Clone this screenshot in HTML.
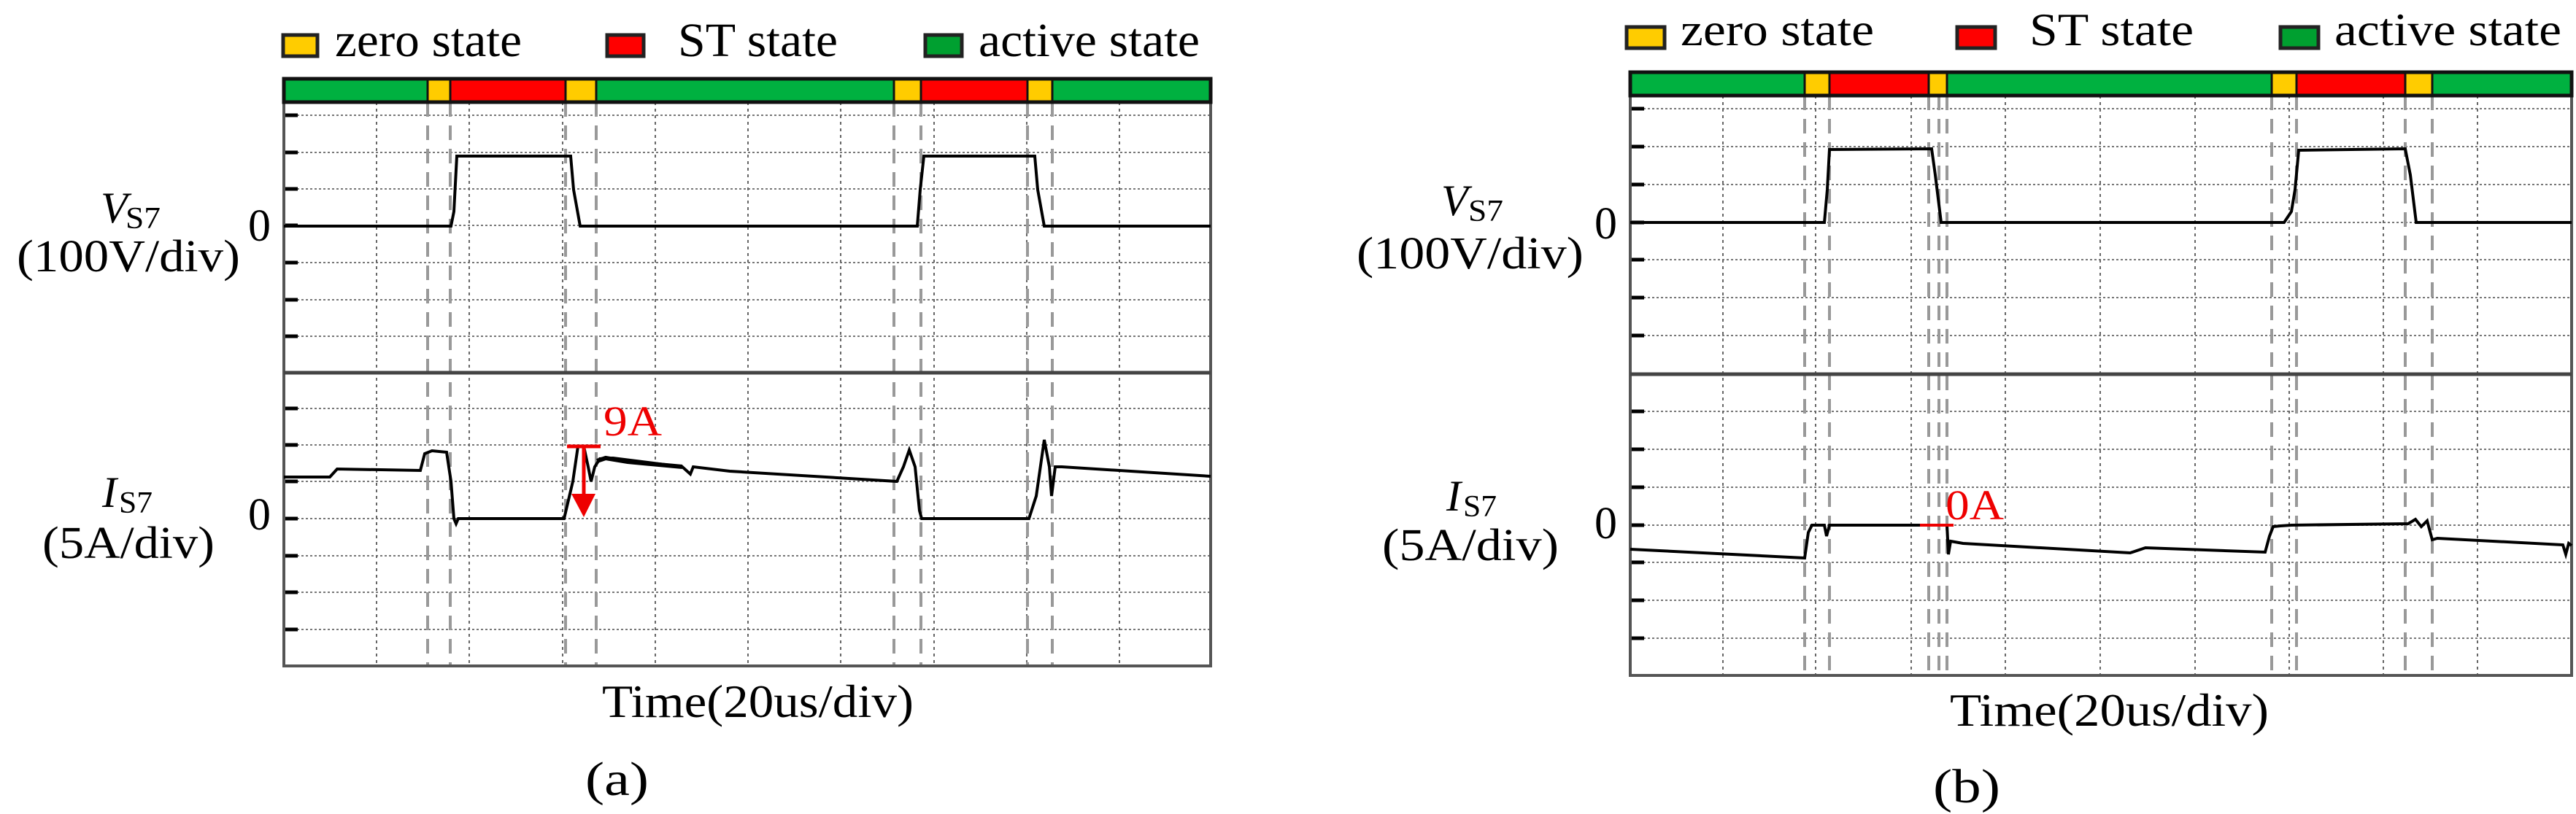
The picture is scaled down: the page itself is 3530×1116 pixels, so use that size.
<!DOCTYPE html>
<html><head><meta charset="utf-8"><style>
html,body{margin:0;padding:0;background:#fff;}
svg{display:block;}
text{font-family:"Liberation Serif",serif;fill:#000;}
</style></head><body>
<svg width="3530" height="1116" viewBox="0 0 3530 1116" xmlns="http://www.w3.org/2000/svg">
<rect width="3530" height="1116" fill="#fff"/>

<!-- ================= PANEL A ================= -->
<!-- legend -->
<rect x="388" y="48" width="47" height="29" fill="#ffcc00" stroke="#222" stroke-width="5"/>
<text x="459" y="77" font-size="66" textLength="256" lengthAdjust="spacingAndGlyphs">zero state</text>
<rect x="832" y="48" width="50" height="29" fill="#ff0000" stroke="#222" stroke-width="5"/>
<text x="929" y="77" font-size="66" textLength="219" lengthAdjust="spacingAndGlyphs">ST state</text>
<rect x="1268" y="48" width="50" height="29" fill="#00a030" stroke="#222" stroke-width="5"/>
<text x="1341" y="77" font-size="66" textLength="303" lengthAdjust="spacingAndGlyphs">active state</text>

<!-- grid -->
<g stroke="#777" stroke-width="2" stroke-dasharray="3,3">
<line x1="389" y1="158" x2="1659" y2="158"/><line x1="389" y1="209" x2="1659" y2="209"/>
<line x1="389" y1="259" x2="1659" y2="259"/><line x1="389" y1="309" x2="1659" y2="309"/>
<line x1="389" y1="360" x2="1659" y2="360"/><line x1="389" y1="411" x2="1659" y2="411"/>
<line x1="389" y1="461" x2="1659" y2="461"/>
<line x1="389" y1="560" x2="1659" y2="560"/><line x1="389" y1="610" x2="1659" y2="610"/>
<line x1="389" y1="660" x2="1659" y2="660"/><line x1="389" y1="711" x2="1659" y2="711"/>
<line x1="389" y1="762" x2="1659" y2="762"/><line x1="389" y1="812" x2="1659" y2="812"/>
<line x1="389" y1="863" x2="1659" y2="863"/>
</g>
<g stroke="#666" stroke-width="2" stroke-dasharray="4,5">
<line x1="516" y1="140" x2="516" y2="913"/><line x1="643" y1="140" x2="643" y2="913"/>
<line x1="771" y1="140" x2="771" y2="913"/><line x1="898" y1="140" x2="898" y2="913"/>
<line x1="1025" y1="140" x2="1025" y2="913"/><line x1="1152" y1="140" x2="1152" y2="913"/>
<line x1="1280" y1="140" x2="1280" y2="913"/><line x1="1407" y1="140" x2="1407" y2="913"/>
<line x1="1534" y1="140" x2="1534" y2="913"/>
</g>
<g stroke="#999" stroke-width="4" stroke-dasharray="20,12">
<line x1="586" y1="140" x2="586" y2="913"/><line x1="617" y1="140" x2="617" y2="913"/>
<line x1="775" y1="140" x2="775" y2="913"/><line x1="817" y1="140" x2="817" y2="913"/>
<line x1="1225" y1="140" x2="1225" y2="913"/><line x1="1262" y1="140" x2="1262" y2="913"/>
<line x1="1408" y1="140" x2="1408" y2="913"/><line x1="1442" y1="140" x2="1442" y2="913"/>
</g>
<!-- ticks -->
<g stroke="#000" stroke-width="5">
<line x1="389" y1="158" x2="408" y2="158"/><line x1="389" y1="209" x2="408" y2="209"/>
<line x1="389" y1="259" x2="408" y2="259"/><line x1="389" y1="309" x2="408" y2="309"/>
<line x1="389" y1="360" x2="408" y2="360"/><line x1="389" y1="411" x2="408" y2="411"/>
<line x1="389" y1="461" x2="408" y2="461"/>
<line x1="389" y1="560" x2="408" y2="560"/><line x1="389" y1="610" x2="408" y2="610"/>
<line x1="389" y1="660" x2="408" y2="660"/><line x1="389" y1="711" x2="408" y2="711"/>
<line x1="389" y1="762" x2="408" y2="762"/><line x1="389" y1="812" x2="408" y2="812"/>
<line x1="389" y1="863" x2="408" y2="863"/>
</g>
<!-- frame -->
<rect x="389" y="108" width="1270" height="805" fill="none" stroke="#555" stroke-width="4"/>
<line x1="389" y1="511" x2="1659" y2="511" stroke="#444" stroke-width="5"/>
<!-- state bar -->
<rect x="389" y="110" width="197" height="28" fill="#00b140"/>
<rect x="586" y="110" width="31" height="28" fill="#ffcc00"/>
<rect x="617" y="110" width="158" height="28" fill="#ff0000"/>
<rect x="775" y="110" width="42" height="28" fill="#ffcc00"/>
<rect x="817" y="110" width="408" height="28" fill="#00b140"/>
<rect x="1225" y="110" width="37" height="28" fill="#ffcc00"/>
<rect x="1262" y="110" width="146" height="28" fill="#ff0000"/>
<rect x="1408" y="110" width="34" height="28" fill="#ffcc00"/>
<rect x="1442" y="110" width="217" height="28" fill="#00b140"/>
<g stroke="#111" stroke-width="3">
<line x1="586" y1="110" x2="586" y2="138"/><line x1="617" y1="110" x2="617" y2="138"/>
<line x1="775" y1="110" x2="775" y2="138"/><line x1="817" y1="110" x2="817" y2="138"/>
<line x1="1225" y1="110" x2="1225" y2="138"/><line x1="1262" y1="110" x2="1262" y2="138"/>
<line x1="1408" y1="110" x2="1408" y2="138"/><line x1="1442" y1="110" x2="1442" y2="138"/>
</g>
<rect x="389" y="108" width="1270" height="32" fill="none" stroke="#111" stroke-width="5"/>
<!-- V waveform -->
<polyline fill="none" stroke="#000" stroke-width="4" points="389,310 618,310 622,290 626,214 782,214 786,260 795,310 1257,310 1261,260 1266,214 1418,214 1422,260 1431,310 1659,310"/>
<!-- I waveform -->
<polyline fill="none" stroke="#000" stroke-width="4" points="389,654 452,654 462,643 576,645 582,622 592,618 612,620 618,660 622,711 625,718 628,711 773,711 785,660 792,612 800,612 806,640 810,660 815,640 822,629 840,628 935,640 946,650 950,640 1000,646 1229,660 1238,640 1246,617 1254,640 1260,700 1263,711 1410,711 1420,680 1431,603 1438,640 1441,680 1446,640 1455,640 1659,653"/>
<polyline fill="none" stroke="#000" stroke-width="6" points="818,632 830,628 860,633 935,640"/>
<!-- red arrow -->
<line x1="777" y1="612" x2="823" y2="612" stroke="#e00" stroke-width="5"/>
<line x1="800" y1="612" x2="800" y2="680" stroke="#e00" stroke-width="5"/>
<polygon points="783,677 816,677 800,709" fill="#e00"/>
<text x="827" y="597" font-size="58" style="fill:#e00" textLength="80" lengthAdjust="spacingAndGlyphs">9A</text>
<!-- labels -->
<text x="138" y="305" font-size="60" font-style="italic">V</text>
<text x="172" y="313" font-size="42" textLength="48" lengthAdjust="spacingAndGlyphs">S7</text>
<text x="23" y="372" font-size="62" textLength="306" lengthAdjust="spacingAndGlyphs">(100V/div)</text>
<text x="340" y="330" font-size="62">0</text>
<text x="140" y="695" font-size="60" font-style="italic">I</text>
<text x="163" y="703" font-size="42" textLength="46" lengthAdjust="spacingAndGlyphs">S7</text>
<text x="58" y="765" font-size="62" textLength="236" lengthAdjust="spacingAndGlyphs">(5A/div)</text>
<text x="340" y="726" font-size="62">0</text>
<text x="825" y="983" font-size="64" textLength="427" lengthAdjust="spacingAndGlyphs">Time(20us/div)</text>
<text x="802" y="1090" font-size="66" textLength="87" lengthAdjust="spacingAndGlyphs">(a)</text>

<!-- ================= PANEL B ================= -->
<rect x="2229" y="37" width="52" height="29" fill="#ffcc00" stroke="#222" stroke-width="5"/>
<text x="2303" y="62" font-size="64" textLength="265" lengthAdjust="spacingAndGlyphs">zero state</text>
<rect x="2682" y="37" width="52" height="29" fill="#ff0000" stroke="#222" stroke-width="5"/>
<text x="2781" y="62" font-size="64" textLength="225" lengthAdjust="spacingAndGlyphs">ST state</text>
<rect x="3125" y="37" width="52" height="29" fill="#00a030" stroke="#222" stroke-width="5"/>
<text x="3199" y="62" font-size="64" textLength="311" lengthAdjust="spacingAndGlyphs">active state</text>

<g stroke="#777" stroke-width="2" stroke-dasharray="3,3">
<line x1="2234" y1="149" x2="3524" y2="149"/><line x1="2234" y1="201" x2="3524" y2="201"/>
<line x1="2234" y1="253" x2="3524" y2="253"/><line x1="2234" y1="305" x2="3524" y2="305"/>
<line x1="2234" y1="356" x2="3524" y2="356"/><line x1="2234" y1="408" x2="3524" y2="408"/>
<line x1="2234" y1="460" x2="3524" y2="460"/>
<line x1="2234" y1="564" x2="3524" y2="564"/><line x1="2234" y1="616" x2="3524" y2="616"/>
<line x1="2234" y1="668" x2="3524" y2="668"/><line x1="2234" y1="720" x2="3524" y2="720"/>
<line x1="2234" y1="771" x2="3524" y2="771"/><line x1="2234" y1="823" x2="3524" y2="823"/>
<line x1="2234" y1="875" x2="3524" y2="875"/>
</g>
<g stroke="#666" stroke-width="2" stroke-dasharray="4,5">
<line x1="2361" y1="131" x2="2361" y2="926"/><line x1="2488" y1="131" x2="2488" y2="926"/>
<line x1="2619" y1="131" x2="2619" y2="926"/><line x1="2748" y1="131" x2="2748" y2="926"/>
<line x1="2878" y1="131" x2="2878" y2="926"/><line x1="3008" y1="131" x2="3008" y2="926"/>
<line x1="3137" y1="131" x2="3137" y2="926"/><line x1="3266" y1="131" x2="3266" y2="926"/>
<line x1="3395" y1="131" x2="3395" y2="926"/>
</g>
<g stroke="#999" stroke-width="4" stroke-dasharray="20,12">
<line x1="2473" y1="131" x2="2473" y2="926"/><line x1="2507" y1="131" x2="2507" y2="926"/>
<line x1="2643" y1="131" x2="2643" y2="926"/><line x1="2657" y1="131" x2="2657" y2="926"/><line x1="2668" y1="131" x2="2668" y2="926"/>
<line x1="3113" y1="131" x2="3113" y2="926"/><line x1="3147" y1="131" x2="3147" y2="926"/>
<line x1="3296" y1="131" x2="3296" y2="926"/><line x1="3333" y1="131" x2="3333" y2="926"/>
</g>
<g stroke="#000" stroke-width="5">
<line x1="2234" y1="149" x2="2253" y2="149"/><line x1="2234" y1="201" x2="2253" y2="201"/>
<line x1="2234" y1="253" x2="2253" y2="253"/><line x1="2234" y1="305" x2="2253" y2="305"/>
<line x1="2234" y1="356" x2="2253" y2="356"/><line x1="2234" y1="408" x2="2253" y2="408"/>
<line x1="2234" y1="460" x2="2253" y2="460"/>
<line x1="2234" y1="564" x2="2253" y2="564"/><line x1="2234" y1="616" x2="2253" y2="616"/>
<line x1="2234" y1="668" x2="2253" y2="668"/><line x1="2234" y1="720" x2="2253" y2="720"/>
<line x1="2234" y1="771" x2="2253" y2="771"/><line x1="2234" y1="823" x2="2253" y2="823"/>
<line x1="2234" y1="875" x2="2253" y2="875"/>
</g>
<rect x="2234" y="99" width="1290" height="827" fill="none" stroke="#555" stroke-width="4"/>
<line x1="2234" y1="513" x2="3524" y2="513" stroke="#444" stroke-width="5"/>
<rect x="2234" y="101" width="239" height="28" fill="#00b140"/>
<rect x="2473" y="101" width="34" height="28" fill="#ffcc00"/>
<rect x="2507" y="101" width="136" height="28" fill="#ff0000"/>
<rect x="2643" y="101" width="25" height="28" fill="#ffcc00"/>
<rect x="2668" y="101" width="445" height="28" fill="#00b140"/>
<rect x="3113" y="101" width="34" height="28" fill="#ffcc00"/>
<rect x="3147" y="101" width="149" height="28" fill="#ff0000"/>
<rect x="3296" y="101" width="37" height="28" fill="#ffcc00"/>
<rect x="3333" y="101" width="191" height="28" fill="#00b140"/>
<g stroke="#111" stroke-width="3">
<line x1="2473" y1="101" x2="2473" y2="129"/><line x1="2507" y1="101" x2="2507" y2="129"/>
<line x1="2643" y1="101" x2="2643" y2="129"/><line x1="2668" y1="101" x2="2668" y2="129"/>
<line x1="3113" y1="101" x2="3113" y2="129"/><line x1="3147" y1="101" x2="3147" y2="129"/>
<line x1="3296" y1="101" x2="3296" y2="129"/><line x1="3333" y1="101" x2="3333" y2="129"/>
</g>
<rect x="2234" y="99" width="1290" height="32" fill="none" stroke="#111" stroke-width="5"/>
<polyline fill="none" stroke="#000" stroke-width="4" points="2234,305 2500,305 2504,260 2507,205 2647,204 2652,240 2660,305 3130,305 3140,290 3145,260 3150,206 3296,204 3303,240 3311,305 3524,305"/>
<polyline fill="none" stroke="#000" stroke-width="4" points="2234,753 2473,765 2478,730 2483,720 2500,720 2503,735 2507,720 2668,720 2670,760 2673,742 2690,745 2919,758 2940,751 3104,757 3110,735 3115,722 3125,721 3140,720 3300,718 3310,712 3318,722 3326,714 3333,740 3340,738 3512,747 3516,760 3520,745 3524,748"/>
<line x1="2631" y1="720" x2="2677" y2="720" stroke="#e00" stroke-width="4"/>
<text x="2666" y="712" font-size="58" style="fill:#e00" textLength="80" lengthAdjust="spacingAndGlyphs">0A</text>
<text x="1975" y="295" font-size="60" font-style="italic">V</text>
<text x="2012" y="303" font-size="42" textLength="48" lengthAdjust="spacingAndGlyphs">S7</text>
<text x="1859" y="368" font-size="62" textLength="311" lengthAdjust="spacingAndGlyphs">(100V/div)</text>
<text x="2185" y="327" font-size="62">0</text>
<text x="1982" y="700" font-size="60" font-style="italic">I</text>
<text x="2005" y="708" font-size="42" textLength="46" lengthAdjust="spacingAndGlyphs">S7</text>
<text x="1894" y="768" font-size="62" textLength="242" lengthAdjust="spacingAndGlyphs">(5A/div)</text>
<text x="2185" y="738" font-size="62">0</text>
<text x="2672" y="995" font-size="64" textLength="437" lengthAdjust="spacingAndGlyphs">Time(20us/div)</text>
<text x="2649" y="1100" font-size="66" textLength="92" lengthAdjust="spacingAndGlyphs">(b)</text>
</svg>
</body></html>
